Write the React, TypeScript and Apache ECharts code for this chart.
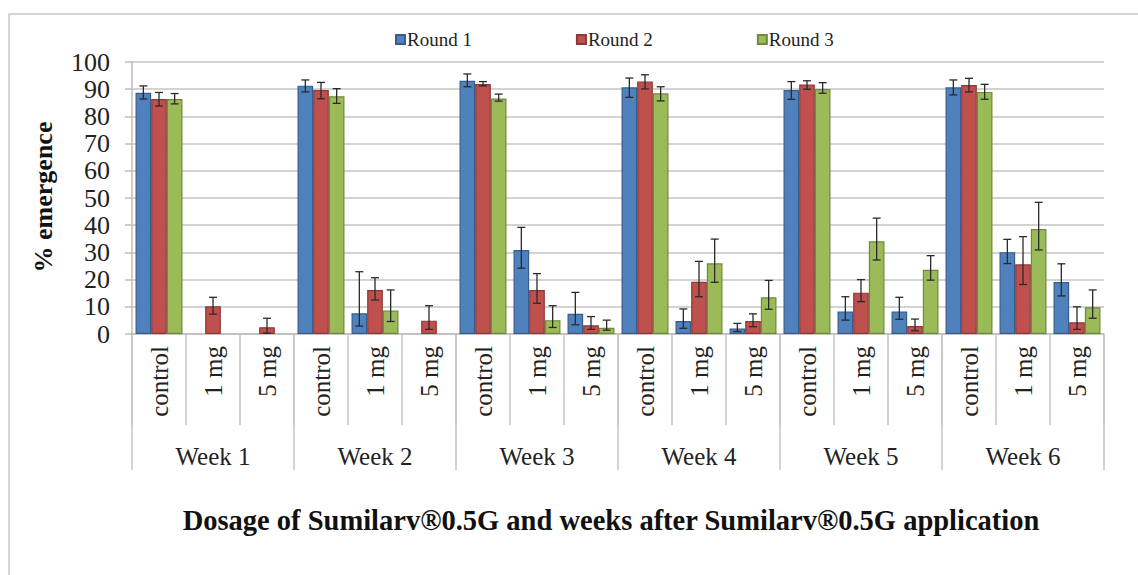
import React, { useEffect, useRef } from "react";
import * as echarts from "echarts";

const weeks = ["Week 1", "Week 2", "Week 3", "Week 4", "Week 5", "Week 6"];
const doses = ["control", "1 mg", "5 mg"];
const seriesNames = ["Round 1", "Round 2", "Round 3"];

// values per (week, dose), 18 entries
const round1 = [88.7, null, null, 91.3, 7.6, null, 93.1, 30.9, 7.4, 90.7, 4.8, 2.0, 89.7, 8.3, 8.3, 90.7, 30.1, 19.1];
const round2 = [86.4, 10.2, 2.5, 89.7, 16.2, 4.9, 91.9, 16.2, 3.2, 92.8, 19.2, 4.8, 91.7, 15.2, 2.9, 91.5, 25.6, 4.3];
const round3 = [86.4, null, null, 87.4, 8.6, null, 86.6, 5.1, 2.3, 88.5, 26.0, 13.5, 90.1, 34.1, 23.6, 89.0, 38.6, 9.8];

// upper / lower error lengths
const round1Up = [2.5, null, null, 2.1, 15.3, null, 2.5, 8.3, 7.9, 3.4, 4.4, 1.9, 3.1, 5.4, 5.2, 2.7, 4.7, 6.7];
const round1Lo = [2.3, null, null, 2.3, 4.7, null, 2.2, 6.7, 4.0, 3.7, 2.7, 1.1, 3.4, 3.2, 2.9, 2.8, 4.2, 5.1];
const round2Up = [2.4, 3.3, 3.3, 2.8, 4.5, 5.5, 0.9, 6.0, 3.2, 2.5, 7.5, 2.6, 1.4, 4.8, 2.6, 2.5, 10.2, 5.7];
const round2Lo = [2.6, 2.9, 2.2, 3.2, 3.7, 3.2, 0.7, 4.9, 1.5, 2.7, 5.5, 2.1, 1.7, 3.3, 1.7, 2.5, 7.4, 2.6];
const round3Up = [2.0, null, null, 2.8, 7.6, null, 1.6, 5.3, 2.8, 2.4, 8.9, 6.2, 2.3, 8.5, 5.2, 2.8, 9.8, 6.4];
const round3Lo = [1.8, null, null, 2.6, 4.0, null, 1.0, 2.7, 0.9, 2.8, 7.0, 4.4, 1.6, 6.9, 3.8, 2.7, 7.7, 4.0];

const yTicks = [0, 10, 20, 30, 40, 50, 60, 70, 80, 90, 100];

const FONT = "Liberation Serif";
const fills = ["#4F81BD", "#C0504D", "#9BBB59"];
const borders = ["#385D8A", "#8C3836", "#71893F"];
const BAR_FRAC = 0.29;

export default function App() {
  const ref = useRef<HTMLDivElement>(null);
  useEffect(() => {
    document.body.style.margin = "0";
    if (!ref.current) return;
    const chart = echarts.init(ref.current, null, { renderer: "svg" });
    const subCats: string[] = [];
    weeks.forEach(() => doses.forEach((d) => subCats.push(d)));
    const values = [round1, round2, round3];
    const ups = [round1Up, round2Up, round3Up];
    const los = [round1Lo, round2Lo, round3Lo];

    const barSeries = values.map((vals, k) => ({
      name: seriesNames[k],
      type: "bar",
      xAxisIndex: 0,
      yAxisIndex: 0,
      barWidth: BAR_FRAC * 100 + "%",
      barGap: "0%",
      data: vals.map((v) => (v == null ? "-" : v)),
      itemStyle: { color: fills[k], borderColor: borders[k], borderWidth: 1.2 },
      z: 2,
    }));

    const errSeries = values.map((vals, k) => ({
      name: seriesNames[k] + " err",
      type: "custom",
      xAxisIndex: 0,
      yAxisIndex: 0,
      z: 5,
      silent: true,
      encode: { x: 0, y: 1 },
      data: vals
        .map((v, i) => (v == null || ups[k][i] == null ? null : [i, v, ups[k][i], los[k][i]]))
        .filter((d) => d != null),
      renderItem: (params: any, api: any) => {
        const idx = api.value(0);
        const v = api.value(1);
        const up = api.value(2);
        const lo = api.value(3);
        const band = api.size([1, 0])[0];
        const off = (k - 1) * band * BAR_FRAC;
        const top = api.coord([idx, v + up]);
        const bot = api.coord([idx, Math.max(0, v - lo)]);
        const x = top[0] + off;
        const cap = 4;
        const st = { stroke: "#2a2a2a", lineWidth: 1.3 };
        return {
          type: "group",
          children: [
            { type: "line", shape: { x1: x, y1: top[1], x2: x, y2: bot[1] }, style: st },
            { type: "line", shape: { x1: x - cap, y1: top[1], x2: x + cap, y2: top[1] }, style: st },
            { type: "line", shape: { x1: x - cap, y1: bot[1], x2: x + cap, y2: bot[1] }, style: st },
          ],
        };
      },
    }));

    chart.setOption({
      animation: false,
      backgroundColor: "#ffffff",
      textStyle: { fontFamily: FONT },
      grid: { left: 132, right: 34, top: 62, bottom: 241, containLabel: false },
      legend: {
        data: seriesNames,
        left: 390,
        top: 25,
        itemWidth: 9,
        itemHeight: 9,
        itemGap: 104,
        icon: "rect",
        textStyle: { fontFamily: FONT, fontSize: 19, color: "#222", padding: [0, 0, 0, -3] },
      },
      xAxis: [
        {
          type: "category",
          data: subCats,
          position: "bottom",
          axisLine: { show: true, lineStyle: { color: "#bdbdbd", width: 1.5 } },
          axisTick: { show: true, interval: 0, alignWithLabel: false, length: 91, lineStyle: { color: "#c4c4c4", width: 1.5 } },
          axisLabel: { interval: 0, rotate: 90, margin: 12, fontFamily: FONT, fontSize: 25, color: "#222" },
          splitLine: { show: false },
        },
        {
          type: "category",
          data: weeks,
          position: "bottom",
          axisLine: { show: false },
          axisTick: { show: true, interval: 0, alignWithLabel: false, length: 136, lineStyle: { color: "#c4c4c4", width: 1.5 } },
          axisLabel: { interval: 0, margin: 110, fontFamily: FONT, fontSize: 25, color: "#222" },
          splitLine: { show: false },
        },
      ],
      yAxis: {
        type: "value",
        min: yTicks[0],
        max: yTicks[yTicks.length - 1],
        interval: 10,
        axisLine: { show: true, lineStyle: { color: "#bdbdbd", width: 1.5 } },
        axisTick: { show: true, length: 7, lineStyle: { color: "#bdbdbd", width: 1.5 } },
        axisLabel: { margin: 22, fontFamily: FONT, fontSize: 26, color: "#222", lineHeight: 26 },
        splitLine: { show: true, lineStyle: { color: "#c4c4c4", width: 1.5 } },
      },
      graphic: [
        {
          type: "rect",
          shape: { x: 9, y: 14, width: 1200, height: 620 },
          style: { fill: "none", stroke: "#c8c8c8", lineWidth: 1.5 },
          silent: true,
          z: -10,
        },
        {
          type: "text",
          x: 43,
          y: 197,
          rotation: Math.PI / 2,
          style: {
            text: "% emergence",
            fontFamily: FONT,
            fontWeight: "bold",
            fontSize: 26,
            fill: "#111",
            textAlign: "center",
            textVerticalAlign: "middle",
          },
        },
        {
          type: "text",
          x: 611,
          y: 520,
          style: {
            text: "Dosage of Sumilarv®0.5G and weeks after Sumilarv®0.5G application",
            fontFamily: FONT,
            fontWeight: "bold",
            fontSize: 28.5,
            fill: "#111",
            textAlign: "center",
            textVerticalAlign: "middle",
          },
        },
      ],
      series: [...barSeries, ...errSeries],
    });
    return () => chart.dispose();
  }, []);
  return <div ref={ref} style={{ width: 1138, height: 575 }} />;
}
